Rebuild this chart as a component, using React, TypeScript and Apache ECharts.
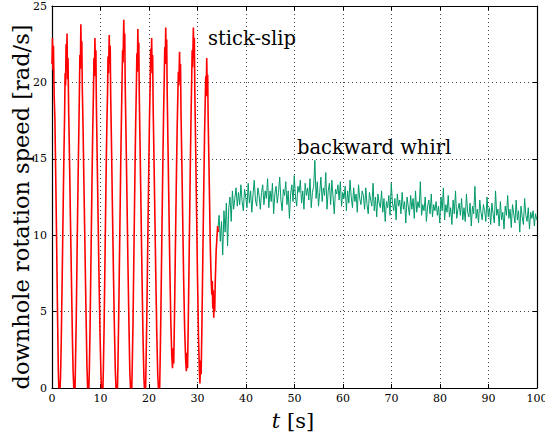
import React, { useEffect, useRef } from "react";
import * as echarts from "echarts";

// axis ranges
const X_MIN = 0, X_MAX = 100, X_STEP = 10;
const Y_MIN = 0, Y_MAX = 25, Y_STEP = 5;

// stick-slip phase: [time s, speed rad/s]
const STICK_SLIP: [number, number][] = [
  [0, 21.2], [0.1, 22.9], [0.2, 20.8], [0.3, 22.4], [0.45, 19.1], [0.6, 17.6], [0.8, 13.2], [1.0, 8.4], [1.15, 4.6], [1.3, 1.2], [1.4, 0], [1.65, 0], [1.75, 0.6],
  [1.9, 2.9], [2.1, 7.2], [2.3, 11.8], [2.45, 15.1], [2.6, 17.9], [2.7, 20.6], [2.8, 19.8], [2.9, 22.5], [3.0, 20.9], [3.1, 23.2], [3.2, 20.2], [3.3, 21.6], [3.45, 17.9], [3.6, 15.2], [3.8, 11.1], [4.0, 7.3], [4.2, 3.4], [4.35, 1.1], [4.5, 0], [4.75, 0], [4.85, 1.8],
  [5.0, 4.5], [5.2, 9.6], [5.4, 14.1], [5.55, 17.2], [5.65, 19.4], [5.75, 21.8], [5.85, 20.9], [5.95, 23.8], [6.05, 21.4], [6.15, 22.7], [6.25, 19.6], [6.4, 17.1], [6.6, 13.0], [6.8, 9.1], [7.0, 5.2], [7.2, 1.5], [7.35, 0], [7.6, 0], [7.7, 1.2],
  [7.85, 4.0], [8.05, 8.8], [8.25, 13.6], [8.4, 16.9], [8.55, 19.4], [8.65, 21.6], [8.75, 20.4], [8.85, 22.9], [8.95, 20.9], [9.05, 22.1], [9.15, 18.6], [9.3, 15.4], [9.5, 11.2], [9.7, 7.1], [9.9, 3.6], [10.1, 0.8], [10.2, 0], [10.5, 0], [10.6, 1.4],
  [10.75, 4.1], [10.95, 9.0], [11.15, 13.9], [11.3, 17.0], [11.45, 19.3], [11.55, 21.7], [11.65, 20.6], [11.8, 23.1], [11.9, 21.2], [12.0, 22.4], [12.1, 19.2], [12.25, 16.3], [12.45, 12.0], [12.65, 7.9], [12.85, 4.2], [13.05, 1.2], [13.2, 0], [13.5, 0], [13.6, 1.6],
  [13.75, 4.6], [13.95, 9.4], [14.15, 14.2], [14.3, 17.3], [14.45, 20.2], [14.55, 22.1], [14.65, 21.3], [14.8, 24.1], [14.9, 22.0], [15.0, 23.2], [15.1, 19.7], [15.25, 16.8], [15.45, 12.6], [15.65, 8.3], [15.85, 4.4], [16.05, 1.0], [16.2, 0], [16.45, 0], [16.55, 1.5],
  [16.7, 4.2], [16.9, 9.1], [17.1, 14.0], [17.25, 17.2], [17.4, 19.8], [17.5, 21.9], [17.6, 20.7], [17.7, 23.5], [17.8, 21.3], [17.9, 22.6], [18.0, 19.1], [18.15, 16.0], [18.35, 11.8], [18.55, 7.5], [18.75, 3.6], [18.95, 0.7], [19.05, 0], [19.3, 0], [19.4, 1.7],
  [19.55, 4.7], [19.75, 9.6], [19.95, 14.3], [20.1, 17.6], [20.25, 20.0], [20.35, 22.2], [20.45, 21.0], [20.55, 22.9], [20.65, 20.6], [20.75, 21.8], [20.85, 18.5], [21.0, 15.6], [21.2, 11.5], [21.4, 7.4], [21.6, 3.6], [21.8, 0.9], [21.95, 0], [22.2, 0], [22.3, 1.8],
  [22.45, 4.9], [22.65, 9.9], [22.85, 14.6], [23.0, 17.8], [23.15, 20.4], [23.25, 22.3], [23.35, 21.2], [23.45, 23.6], [23.55, 21.5], [23.65, 22.8], [23.75, 19.3], [23.9, 16.2], [24.1, 12.0], [24.3, 7.8], [24.5, 4.3], [24.7, 2.1], [24.85, 1.3], [25.0, 2.6], [25.1, 1.6],
  [25.25, 4.6], [25.45, 9.3], [25.65, 13.8], [25.8, 16.9], [25.95, 19.2], [26.05, 20.7], [26.15, 19.8], [26.3, 22.0], [26.4, 20.1], [26.5, 21.2], [26.6, 18.0], [26.75, 15.2], [26.95, 11.1], [27.15, 7.0], [27.35, 3.9], [27.55, 1.9], [27.7, 1.1], [27.85, 2.3], [27.95, 1.3],
  [28.1, 4.3], [28.3, 9.2], [28.5, 14.1], [28.65, 17.4], [28.8, 20.2], [28.9, 22.1], [29.0, 21.0], [29.15, 23.6], [29.25, 21.6], [29.35, 22.9], [29.45, 19.4], [29.6, 16.2], [29.8, 11.7], [30.0, 7.3], [30.2, 3.4], [30.4, 1.0], [30.5, 0.3], [30.65, 1.8], [30.75, 0.9],
  [30.9, 3.9], [31.1, 8.6], [31.3, 13.2], [31.45, 16.5], [31.6, 18.9], [31.7, 20.4], [31.8, 19.1], [31.9, 21.6], [32.0, 19.8], [32.1, 20.5], [32.2, 17.5], [32.35, 14.9], [32.5, 12.0], [32.65, 9.1], [32.8, 7.3], [32.95, 6.1], [33.05, 7.0], [33.15, 5.2], [33.25, 6.4], [33.35, 4.6], [33.45, 5.9], [33.55, 5.0], [33.65, 6.8], [33.75, 7.9], [33.85, 9.0], [34.0, 9.8], [34.15, 10.6], [34.3, 10.2],
];

// backward whirl phase: sampled every WHIRL_DT seconds from WHIRL_T0
const WHIRL_T0 = 34.2;
const WHIRL_DT = 0.25;
const WHIRL_V: number[] = [
  10.4, 11.3, 9.6, 10.9, 8.7, 11.6, 10.2, 12.1, 9.3, 11.8, 12.5, 10.9, 12.9, 11.7, 12.4, 13.1, 11.9, 12.8, 12.0, 13.3,
  12.2, 11.6, 13.0, 12.5, 11.8, 13.4, 12.1, 12.9, 11.5, 12.7, 13.6, 12.3, 11.9, 13.1, 12.6, 11.7, 12.8, 13.3, 12.0, 12.9,
  12.4, 13.7, 11.8, 12.9, 12.2, 13.4, 11.4, 12.7, 13.2, 12.1, 12.8, 13.8, 12.3, 11.6, 13.0, 12.6, 13.5, 12.0, 12.9, 11.1,
  12.7, 13.3, 12.2, 13.9, 12.5, 11.9, 13.2, 12.8, 13.6, 12.1, 12.9, 11.7, 13.4, 12.6, 13.1, 12.3, 13.7, 11.8, 12.8, 13.2,
  14.9, 12.4, 13.5, 11.9, 12.8, 13.8, 12.2, 13.1, 12.6, 14.1, 11.7, 12.9, 13.4, 12.0, 13.6, 12.5, 11.4, 13.0, 12.7, 13.3,
  12.3, 13.5, 11.9, 12.8, 12.4, 13.2, 11.6, 12.9, 12.1, 13.6, 12.5, 11.8, 13.1, 12.2, 12.7, 11.5, 13.3, 12.4, 12.0, 12.9,
  12.6, 11.7, 13.1, 12.0, 11.4, 12.8, 12.3, 11.9, 13.4, 11.6, 12.5, 11.2, 12.7, 12.1, 11.8, 12.9, 11.5, 12.4, 10.9, 12.2,
  11.8, 12.6, 11.3, 13.4, 12.1, 11.6, 12.4, 11.0, 12.7, 11.9, 12.3, 11.4, 12.8, 11.7, 12.2, 10.8, 12.5, 11.9, 11.3, 12.6,
  11.7, 12.4, 11.1, 12.9, 11.5, 12.2, 11.8, 13.5, 11.3, 12.0, 11.6, 12.5, 10.9, 11.9, 12.3, 11.4, 12.7, 11.2, 12.0, 11.6,
  12.2, 11.3, 11.9, 10.8, 12.5, 11.6, 13.1, 11.0, 12.0, 11.5, 12.6, 11.2, 11.8, 10.7, 12.3, 11.4, 12.9, 11.1, 11.7, 12.1,
  11.3, 12.4, 11.0, 11.8, 10.9, 12.7, 11.5, 11.2, 12.1, 10.6, 11.9, 11.4, 13.2, 11.1, 11.7, 10.8, 12.3, 11.5, 11.0, 12.0,
  11.6, 10.9, 12.5, 11.2, 11.8, 10.7, 12.1, 11.4, 10.8, 12.9, 11.3, 11.7, 10.6, 12.2, 11.0, 11.5, 10.4, 11.9, 11.3, 12.6,
  11.1, 11.7, 10.5, 12.0, 11.4, 10.8, 12.3, 11.0, 11.6, 10.2, 11.9, 11.2, 10.7, 12.4, 11.3, 10.9, 11.8, 10.4, 11.5, 11.1,
  11.6, 10.6, 11.4, 11.0,
];

const Y_LABEL = "downhole rotation speed [rad/s]";
const X_LABEL_VAR = "t";
const X_LABEL_UNIT = " [s]";
const NOTE_STICK = "stick-slip";
const NOTE_WHIRL = "backward whirl";

const SERIF = "DejaVu Serif";

export default function App() {
  const ref = useRef<HTMLDivElement>(null);

  useEffect(() => {
    if (!ref.current) return;
    const chart = echarts.init(ref.current, null, { renderer: "svg" });
    const whirl = WHIRL_V.map((v, i) => [WHIRL_T0 + i * WHIRL_DT, v]);

    const gridLine = { show: true, lineStyle: { color: "#444", type: [1, 3] as any, width: 1 } };
    const axisLine = { show: true, onZero: false, lineStyle: { color: "#000", width: 1.2 } };
    const tick = { show: true, inside: true, length: 4, lineStyle: { color: "#000" } };

    chart.setOption({
      animation: false,
      backgroundColor: "#fff",
      grid: { left: 52, right: 8, top: 6, bottom: 49, containLabel: false, outerBoundsMode: "none" },
      xAxis: [
        {
          type: "value", min: X_MIN, max: X_MAX, interval: X_STEP, position: "bottom",
          axisLine, axisTick: tick, splitLine: gridLine,
          axisLabel: { color: "#000", fontFamily: SERIF, fontSize: 11, margin: 5 },
        },
        {
          type: "value", min: X_MIN, max: X_MAX, interval: X_STEP, position: "top",
          axisLine, axisTick: tick, splitLine: { show: false }, axisLabel: { show: false },
        },
      ],
      yAxis: [
        {
          type: "value", min: Y_MIN, max: Y_MAX, interval: Y_STEP, position: "left",
          axisLine, axisTick: tick, splitLine: gridLine,
          axisLabel: { color: "#000", fontFamily: SERIF, fontSize: 11, margin: 5 },
        },
        {
          type: "value", min: Y_MIN, max: Y_MAX, interval: Y_STEP, position: "right",
          axisLine, axisTick: tick, splitLine: { show: false }, axisLabel: { show: false },
        },
      ],
      series: [
        {
          type: "line", data: whirl, xAxisIndex: 0, yAxisIndex: 0, showSymbol: false, symbol: "none",
          lineStyle: { color: "#00996a", width: 1 }, z: 2,
        },
        {
          type: "line", data: STICK_SLIP, xAxisIndex: 0, yAxisIndex: 0, showSymbol: false, symbol: "none",
          lineStyle: { color: "#ff0000", width: 1.6 }, z: 3,
        },
      ],
      graphic: [
        {
          type: "text", x: 21, y: 207, rotation: Math.PI / 2,
          style: {
            text: Y_LABEL, fill: "#000", fontFamily: SERIF, fontSize: 22.5,
            textAlign: "center", textVerticalAlign: "middle",
          },
        },
        {
          type: "text", x: 293, y: 431,
          style: {
            text: `{i|${X_LABEL_VAR}}{n|${X_LABEL_UNIT}}`,
            textAlign: "center", textVerticalAlign: "bottom",
            rich: {
              i: { fontFamily: SERIF, fontSize: 21, fontStyle: "italic", fill: "#000" },
              n: { fontFamily: SERIF, fontSize: 21, fill: "#000" },
            },
          },
        },
        {
          type: "text", x: 208, y: 48,
          style: { text: NOTE_STICK, fill: "#000", fontFamily: SERIF, fontSize: 19.5, textAlign: "left", textVerticalAlign: "bottom" },
        },
        {
          type: "text", x: 297, y: 157,
          style: { text: NOTE_WHIRL, fill: "#000", fontFamily: SERIF, fontSize: 19.5, textAlign: "left", textVerticalAlign: "bottom" },
        },
      ],
    });
    return () => chart.dispose();
  }, []);

  return <div ref={ref} style={{ width: 545, height: 437, position: "absolute", left: 0, top: 0 }} />;
}
